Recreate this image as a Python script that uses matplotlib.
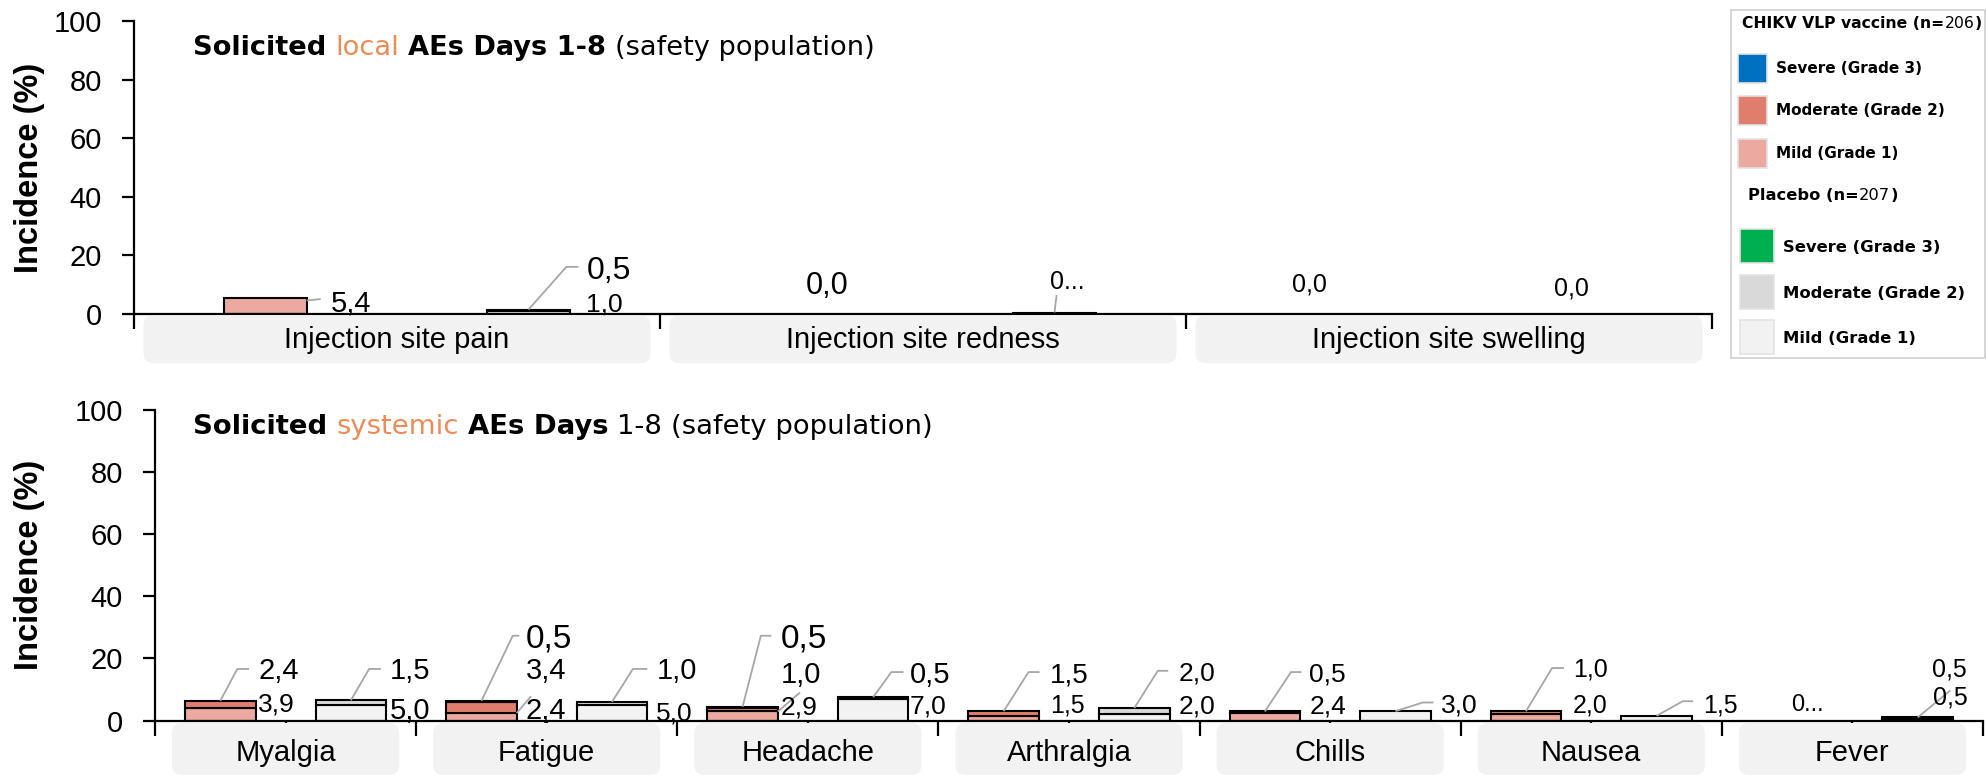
import matplotlib
matplotlib.use("Agg")
import matplotlib.pyplot as plt
from matplotlib.patches import FancyBboxPatch, Rectangle
from matplotlib.text import Annotation
from matplotlib.transforms import IdentityTransform

# ---------------- data ----------------
local_categories = ["Injection site pain", "Injection site redness", "Injection site swelling"]
local_vac_mild = [5.4, 0.0, 0.0]
local_vac_moderate = [0.0, 0.0, 0.0]
local_vac_severe = [0.0, 0.0, 0.0]
local_pbo_mild = [1.0, 0.5, 0.0]
local_pbo_moderate = [0.5, 0.0, 0.0]
local_pbo_severe = [0.0, 0.0, 0.0]

systemic_categories = ["Myalgia", "Fatigue", "Headache", "Arthralgia", "Chills", "Nausea", "Fever"]
sys_vac_mild = [3.9, 2.4, 2.9, 1.5, 2.4, 2.0, 0.0]
sys_vac_moderate = [2.4, 3.4, 1.0, 1.5, 0.5, 1.0, 0.0]
sys_vac_severe = [0.0, 0.5, 0.5, 0.0, 0.0, 0.0, 0.0]
sys_pbo_mild = [5.0, 5.0, 7.0, 2.0, 3.0, 1.5, 0.5]
sys_pbo_moderate = [1.5, 1.0, 0.5, 2.0, 0.0, 0.0, 0.5]
sys_pbo_severe = [0.0, 0.0, 0.0, 0.0, 0.0, 0.0, 0.0]

yticks = [0, 20, 40, 60, 80, 100]
grade_names = ["Severe (Grade 3)", "Moderate (Grade 2)", "Mild (Grade 1)"]
vaccine_group = ("CHIKV VLP vaccine (n=", "206", ")")
placebo_group = ("Placebo (n=", "207", ")")

# ---------------- style ----------------
VAC_COLORS = ["#EBA9A0", "#E07E6E", "#0070C0"]   # mild, moderate, severe
PBO_COLORS = ["#F2F2F2", "#D9D9D9", "#00B050"]
ORANGE = "#EE8B55"
LEADER = "#A6A6A6"
BOXC = "#F2F2F2"
NUM_FONT = ["Liberation Sans", "DejaVu Sans"]
TITLE_FONT = ["DejaVu Sans"]
plt.rcParams["font.family"] = NUM_FONT

W, H = 1987, 776
fig = plt.figure(figsize=(W / 100, H / 100), dpi=100)
fig.patch.set_facecolor("white")
renderer = fig.canvas.get_renderer()


def px_rect(l, t, r, b):
    return [l / W, 1 - b / H, (r - l) / W, (b - t) / H]


ax1 = fig.add_axes(px_rect(134, 21, 1712, 314))
ax2 = fig.add_axes(px_rect(155, 410, 1983, 720.5))


def fmt(v):
    return f"{v:.1f}".replace(".", ",")


def style_axis(ax, n, minor):
    ax.set_xlim(0, n)
    ax.set_ylim(0, 100)
    ax.set_yticks(yticks)
    for s in ("top", "right"):
        ax.spines[s].set_visible(False)
    for s in ("left", "bottom"):
        ax.spines[s].set_linewidth(1.6)
    ax.tick_params(axis="y", length=9, width=1.6, pad=14, labelsize=21)
    ax.set_xticks(range(n + 1))
    ax.set_xticklabels([])
    ax.tick_params(axis="x", which="major", length=11, width=1.6)
    if minor:
        ax.set_xticks([i + 0.5 for i in range(n)], minor=True)
        ax.tick_params(axis="x", which="minor", length=5, width=1.6)
    ax.patch.set_alpha(0)


def draw_bars(ax, vac, pbo, width):
    tops = {}
    n = len(vac[0])
    for i in range(n):
        for grp, segs, colors, off in (("v", vac, VAC_COLORS, 0.25), ("p", pbo, PBO_COLORS, 0.75)):
            c = i + off
            bottom = 0.0
            seg_tops = []
            for s in range(3):
                v = segs[s][i]
                if v > 0:
                    ax.bar(c, v, width, bottom=bottom, color=colors[s],
                           edgecolor="black", linewidth=1.5, zorder=2)
                bottom += v
                seg_tops.append(bottom)
            tops[(i, grp)] = (c, bottom, seg_tops)
    return tops


def draw_labels(ax, tops, vac, pbo, specs):
    for spec in specs:
        i, grp, seg, dx, y, size, leader = spec[:7]
        override = spec[7] if len(spec) > 7 else None
        c, top, seg_tops = tops[(i, grp)]
        val = (vac if grp == "v" else pbo)[seg][i]
        txt = override if override else fmt(val)
        if leader:
            xs, ys = [], []
            for pdx, py in leader:
                xs.append(c + pdx)
                ys.append(top if py == "top" else seg_tops[seg] if py == "seg" else py)
            ax.plot(xs, ys, color=LEADER, lw=1.3, zorder=3, clip_on=False,
                    solid_capstyle="butt")
        ax.annotate(txt, xy=(c + dx, y), xycoords="data",
                    xytext=(0, -0.358 * size), textcoords="offset points",
                    ha="left", va="baseline", fontsize=size, annotation_clip=False,
                    zorder=4)


def category_boxes(ax, names, inset, top_px, bot_px, baseline_px, size):
    for i, name in enumerate(names):
        x0 = ax.transData.transform((i + inset, 0))[0]
        x1 = ax.transData.transform((i + 1 - inset, 0))[0]
        p = FancyBboxPatch((x0, H - bot_px), x1 - x0, bot_px - top_px,
                           boxstyle="round,pad=0,rounding_size=10",
                           transform=IdentityTransform(), fc=BOXC, ec="none", zorder=1)
        fig.add_artist(p)
        fig.text((x0 + x1) / 2 / W, (H - baseline_px) / H, name, ha="center",
                 va="baseline", fontsize=size, zorder=2)


def _build_rich(x_px, baseline_px, parts, size, family):
    first = parts[0]
    arts = [fig.text(x_px / W, (H - baseline_px) / H, first[0], fontsize=size,
                     fontweight=first[1], color=first[2], family=family, va="baseline",
                     zorder=5)]
    for txt, weight, color, gap in parts[1:]:
        ann = Annotation(txt, xy=(1, 0), xycoords=arts[-1], xytext=(gap * size, 0),
                         textcoords="offset points", va="bottom", ha="left",
                         fontsize=size, fontweight=weight, color=color, family=family,
                         annotation_clip=False)
        ann.set_zorder(5)
        fig.add_artist(ann)
        arts.append(ann)
    return arts


def rich_text(x_px, baseline_px, parts, size, family=TITLE_FONT, target=None):
    arts = _build_rich(x_px, baseline_px, parts, size, family)
    if target:
        w = arts[-1].get_window_extent(renderer).x1 - arts[0].get_window_extent(renderer).x0
        for a in arts:
            a.remove()
        size = size * target / w
        arts = _build_rich(x_px, baseline_px, parts, size, family)
    return size


def fit_size(text, target, weight="bold", family=TITLE_FONT, base=12):
    t = fig.text(0, 0, text, fontsize=base, fontweight=weight, family=family)
    w = t.get_window_extent(renderer).width
    t.remove()
    return base * target / w


# ---------------- top panel ----------------
style_axis(ax1, 3, minor=False)
loc_vac = [local_vac_mild, local_vac_moderate, local_vac_severe]
loc_pbo = [local_pbo_mild, local_pbo_moderate, local_pbo_severe]
tops1 = draw_bars(ax1, loc_vac, loc_pbo, 0.156)
local_label_specs = [
    (0, "v", 0, 0.124, 4.1, 21, [(0.078, 4.6), (0.105, 5.1)]),
    (0, "p", 1, 0.110, 15.8, 23, [(0, "top"), (0.072, 16.1), (0.095, 16.1)]),
    (0, "p", 0, 0.110, 4.1, 19, None),
    (1, "v", 0, 0.027, 10.7, 22, None),
    (1, "p", 0, -0.008, 11.7, 18, [(0, "top"), (0.004, 6.5)], "0..."),
    (2, "v", 0, -0.048, 10.7, 18, None),
    (2, "p", 0, -0.050, 9.3, 18, None),
]
draw_labels(ax1, tops1, loc_vac, loc_pbo, local_label_specs)
category_boxes(ax1, local_categories, 0.018, 315.5, 363, 348, 21)

# ---------------- bottom panel ----------------
style_axis(ax2, 7, minor=True)
s_vac = [sys_vac_mild, sys_vac_moderate, sys_vac_severe]
s_pbo = [sys_pbo_mild, sys_pbo_moderate, sys_pbo_severe]
tops2 = draw_bars(ax2, s_vac, s_pbo, 0.27)
sys_label_specs = [
    (0, "v", 1, 0.145, 16.6, 21, [(0, "top"), (0.065, 16.6), (0.11, 16.6)]),
    (0, "v", 0, 0.145, 5.8, 19, None),
    (0, "p", 1, 0.150, 16.6, 21, [(0, "top"), (0.07, 16.6), (0.115, 16.6)]),
    (0, "p", 0, 0.150, 3.8, 21, None),
    (1, "v", 2, 0.170, 27.3, 24, [(0, "top"), (0.12, 27.3), (0.145, 27.3)]),
    (1, "v", 1, 0.170, 16.6, 21, None),
    (1, "v", 0, 0.170, 3.8, 21, [(0.135, "seg"), (0.19, 7.8)]),
    (1, "p", 1, 0.170, 16.6, 21, [(0, "top"), (0.08, 16.6), (0.135, 16.6)]),
    (1, "p", 0, 0.170, 3.2, 19, None),
    (2, "v", 2, 0.145, 27.3, 24, [(0, "top"), (0.07, 27.3), (0.11, 27.3)]),
    (2, "v", 1, 0.145, 15.6, 21, None),
    (2, "v", 0, 0.145, 4.9, 19, [(0.135, "seg"), (0.22, 9.0)]),
    (2, "p", 1, 0.140, 15.6, 21, [(0, "top"), (0.07, 15.6), (0.116, 15.6)]),
    (2, "p", 0, 0.140, 5.4, 19, None),
    (3, "v", 1, 0.177, 15.6, 20, [(0, "top"), (0.095, 15.6), (0.137, 15.6)]),
    (3, "v", 0, 0.177, 5.4, 18, None),
    (3, "p", 1, 0.168, 16.0, 19, [(0, "top"), (0.09, 16.0), (0.13, 16.0)]),
    (3, "p", 0, 0.168, 5.4, 19, None),
    (4, "v", 1, 0.170, 15.6, 19, [(0, "top"), (0.10, 15.6), (0.14, 15.6)]),
    (4, "v", 0, 0.170, 5.4, 19, None),
    (4, "p", 0, 0.175, 5.6, 19, [(0, "top"), (0.105, 5.8), (0.145, 5.8)]),
    (5, "v", 1, 0.180, 16.9, 18, [(0, "top"), (0.10, 16.9), (0.145, 16.9)]),
    (5, "v", 0, 0.180, 5.5, 18, None),
    (5, "p", 0, 0.180, 5.5, 18, [(0, "top"), (0.10, 6.2), (0.14, 6.2)]),
    (6, "v", 0, 0.016, 5.8, 17, None, "0..."),
    (6, "p", 1, 0.055, 16.9, 18, None),
    (6, "p", 0, 0.057, 8.1, 18, [(0, "top"), (0.125, 9.7)]),
]
draw_labels(ax2, tops2, s_vac, s_pbo, sys_label_specs)
category_boxes(ax2, systemic_categories, 0.065, 723, 775, 761, 21)

# ---------------- y labels ----------------
for yc in (167.5, 565):
    fig.text(30 / W, (H - yc) / H, "Incidence (%)", rotation=90, ha="center",
             va="center", fontsize=23.5, fontweight="bold")

# ---------------- titles ----------------
SP = 0.33
rich_text(193, 55, [("Solicited", "bold", "black"),
                    ("local", "normal", ORANGE, SP),
                    ("AEs Days 1-8", "bold", "black", SP),
                    ("(safety population)", "normal", "black", SP)], 19, target=681)
rich_text(193, 434, [("Solicited", "bold", "black"),
                     ("systemic", "normal", ORANGE, SP),
                     ("AEs Days", "bold", "black", SP),
                     ("1-8", "normal", "black", SP),
                     ("(safety population)", "normal", "black", SP)], 19, target=740)

# ---------------- legend ----------------
fig.add_artist(Rectangle((1731, H - 358), 254, 348, transform=IdentityTransform(),
                         fc="white", ec="#D0D0D0", lw=1.2, zorder=1))


def legend_block(title, x_title, y_title, title_w, colors, sq_x, sq, ys, tx, ref_idx, ref_w):
    rich_text(x_title, y_title, [(title[0], "bold", "black"),
                                 (title[1], "normal", "black", 0.03),
                                 (title[2], "bold", "black", 0.03)], 11, target=title_w)
    size = fit_size(grade_names[ref_idx], ref_w)
    for name, col, yc in zip(grade_names, colors, ys):
        fig.add_artist(Rectangle((sq_x, H - yc - sq / 2), sq, sq, transform=IdentityTransform(),
                                 fc=col, ec="#E3E3E3", lw=1.2, zorder=2))
        fig.text(tx / W, (H - yc - 0.36 * size * 100 / 72) / H, name, fontsize=size,
                 fontweight="bold", family=TITLE_FONT, va="baseline", ha="left", zorder=3)


legend_block(vaccine_group, 1742, 28, 238, VAC_COLORS[::-1], 1738, 29, [68, 110, 153], 1776, 0, 146)
legend_block(placebo_group, 1748, 200, 148, PBO_COLORS[::-1], 1740, 34, [246, 292, 337], 1783, 1, 182)

fig.savefig("out.png", dpi=100, facecolor="white")
